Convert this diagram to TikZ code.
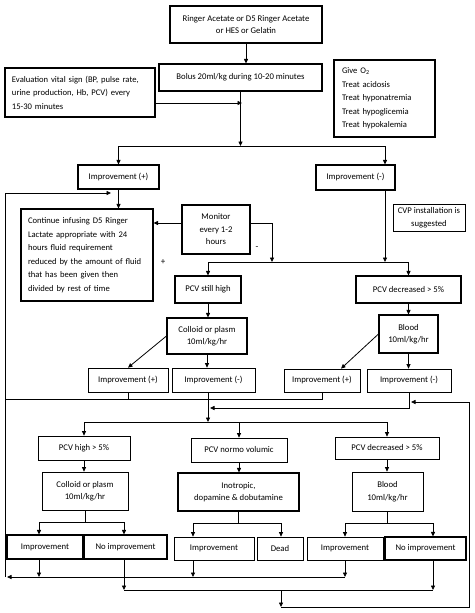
\documentclass[tikz,border=0pt]{standalone}
\usepackage{fontspec}
\setmainfont{Carlito}
\usetikzlibrary{arrows.meta,calc}
\begin{document}
\begin{tikzpicture}[x=1pt,y=-1pt,
 box/.style={draw, line width=1.05pt, inner sep=0pt, align=center, font=\fontsize{8.7}{12.5}\selectfont},
 tbox/.style={box, line width=0.7pt},
 lbox/.style={box, align=left, inner xsep=7pt, font=\fontsize{8.6}{13.5}\selectfont},
 arr/.style={line width=0.8pt, -{Triangle[length=4.5pt,width=4pt]}},
 ln/.style={line width=0.8pt},
 lab/.style={font=\fontsize{9}{10}\selectfont, inner sep=0pt}]
\useasboundingbox[fill=white] (0,0) rectangle (474,613);

% ---- nodes ----
\node[box, minimum width=152pt, minimum height=37pt] (top) at (246,24.5) {Ringer Acetate or D5 Ringer Acetate\\or HES or Gelatin};
\node[box, minimum width=163pt, minimum height=27pt] (bolus) at (240.5,77.5) {Bolus 20ml/kg during 10-20 minutes};
\node[lbox, text width=136pt, minimum height=49pt] (eval) at (80,92.5) {Evaluation vital sign (BP, pulse rate,\\urine production, Hb, PCV) every\\15-30 minutes};
\node[lbox, text width=85pt, inner xsep=8pt, minimum height=77pt] (give) at (384.5,98.5) {Give O\textsubscript{2}\\Treat acidosis\\Treat hyponatremia\\Treat hypoglicemia\\Treat hypokalemia};
\node[box, minimum width=81pt, minimum height=24pt] (impP) at (118.5,177) {Improvement (+)};
\node[box, minimum width=79pt, minimum height=25pt] (impM) at (355.5,177.5) {Improvement (-)};
\node[lbox, text width=118pt, minimum height=92pt] (cont) at (87,255) {Continue infusing D5 Ringer\\Lactate appropriate with 24\\hours fluid requirement\\reduced by the amount of fluid\\that has been given then\\divided by rest of time};
\node[box, minimum width=68pt, minimum height=49pt] (monitor) at (216,229.5) {Monitor\\every 1-2\\hours};
\node[tbox, minimum width=72pt, minimum height=27pt] (cvp) at (429,217.5) {CVP installation is\\suggested};
\node[box, minimum width=66pt, minimum height=27pt] (pcvHigh) at (208,289.5) {PCV still high};
\node[box, minimum width=105pt, minimum height=27pt] (pcvDec) at (408.5,289.5) {PCV decreased > 5\%};
\node[box, minimum width=80pt, minimum height=36pt] (coll1) at (207,336) {Colloid or plasm\\10ml/kg/hr};
\node[box, minimum width=59pt, minimum height=38pt] (blood1) at (408.5,334) {Blood\\10ml/kg/hr};
\node[tbox, minimum width=80pt, minimum height=24pt] (impP1) at (128,380) {Improvement (+)};
\node[tbox, minimum width=83pt, minimum height=24pt] (impM1) at (213.5,380) {Improvement (-)};
\node[tbox, minimum width=76pt, minimum height=23pt] (impP2) at (322,380.5) {Improvement (+)};
\node[tbox, minimum width=84pt, minimum height=23pt] (impM2) at (409,380.5) {Improvement (-)};
\node[tbox, minimum width=92pt, minimum height=24pt] (pcvH5) at (84,448) {PCV high > 5\%};
\node[tbox, minimum width=96pt, minimum height=24pt] (pcvNorm) at (239,450) {PCV normo volumic};
\node[tbox, minimum width=104pt, minimum height=22pt] (pcvD5) at (387,448) {PCV decreased > 5\%};
\node[tbox, minimum width=86pt, minimum height=38pt] (coll2) at (85,491) {Colloid or plasm\\10ml/kg/hr};
\node[box, minimum width=121pt, minimum height=38pt] (ino) at (238.5,492) {Inotropic,\\dopamine \& dobutamine};
\node[tbox, minimum width=71pt, minimum height=39pt] (blood2) at (387.5,491.5) {Blood\\10ml/kg/hr};
\node[box, minimum width=76pt, minimum height=24pt] (imp1) at (45,547) {Improvement};
\node[box, minimum width=83pt, minimum height=24pt] (noimp1) at (125.5,547) {No improvement};
\node[tbox, minimum width=80pt, minimum height=23pt] (imp2) at (214,548.5) {Improvement};
\node[tbox, minimum width=46pt, minimum height=23pt] (dead) at (280,548.5) {Dead};
\node[tbox, minimum width=76pt, minimum height=23pt] (imp3) at (345,548.5) {Improvement};
\node[box, minimum width=81pt, minimum height=23pt] (noimp3) at (425.5,548.5) {No improvement};

\node[lab] (plus) at (163,262) {+};
\node[lab] (minus) at (257,248) {-};

% ---- coordinates ----
\coordinate (e2) at (242,103);
\coordinate (hL) at (118.5,146);
\coordinate (hR) at (385,146);
\coordinate (dL) at (208,262);
\coordinate (dR) at (408.5,262);
\coordinate (mE) at (272,223);
\coordinate (LB) at (5,577);
\coordinate (LT) at (5,193);
\coordinate (LTend) at (111,193);
\coordinate (L399) at (5,399);
\coordinate (c1) at (208,408);
\coordinate (c2) at (208,422);
\coordinate (R1) at (469,402);
\coordinate (R2) at (469,607);
\coordinate (B607) at (281,607);
\coordinate (gL) at (84,422);
\coordinate (gR) at (387,422);
\coordinate (k1L) at (39,522);
\coordinate (k1R) at (124,522);
\coordinate (k2L) at (193,523);
\coordinate (k2R) at (281,523);
\coordinate (k3L) at (345,523);
\coordinate (k3R) at (433,523);
\coordinate (N) at (124,590);
\coordinate (N2) at (433,590);

% ---- connectors ----
\draw[arr] (top.south) -- (top.south |- bolus.north);
\draw[arr] (bolus.south) -- (bolus.south |- hL);
\draw[arr] (eval.east |- e2) -- (e2);
\draw[ln] (hL) -- (hR);
\draw[arr] (hL) -- (impP.north);
\draw[arr] (hR) -- (hR |- impM.north);
\draw[arr] (impP.south) -- (impP.south |- cont.north);
\draw[arr] (hR |- impM.south) -- (hR |- dR);
\draw[ln] (dL) -- (dR);
\draw[arr] (dL) -- (pcvHigh.north);
\draw[arr] (dR) -- (pcvDec.north);
\draw[arr] (monitor.east |- mE) -- (mE) -- (mE |- dR);
\draw[arr] (monitor.west |- mE) -- (cont.east |- mE);

\draw[arr] (pcvHigh.south) -- (pcvHigh.south |- coll1.north);
\draw[arr] (pcvDec.south) -- (pcvDec.south |- blood1.north);
\draw[arr] (coll1.west) -- (impP1.north);
\draw[arr] (blood1.west) -- ($(impP2.north)+(19,0)$);
\draw[arr] (coll1.south) -- (coll1.south |- impM1.north);
\draw[arr] (blood1.south) -- (blood1.south |- impM2.north);

% left feedback loop
\draw[ln] (impP2.south) -- (impP2.south |- L399) -- (L399);
\draw[ln] (impP1.south) -- (impP1.south |- L399);
\draw[arr] (LB) -- (LT) -- (LTend);

% convergence to second stage
\draw[arr] (c2 |- impM1.south) -- (c2);
\draw[arr] (impM2.south) -- (impM2.south |- c1) -- ($(c1)+(2,0)$);
\draw[arr] (B607) -- (R2) -- (R1) -- ($(impM2.south |- R1)+(2,0)$);

\draw[ln] (gL) -- (gR);
\draw[arr] (gL) -- (pcvH5.north);
\draw[arr] (pcvNorm.north |- gL) -- (pcvNorm.north);
\draw[arr] (gR) -- (pcvD5.north);

\draw[arr] (pcvH5.south) -- (pcvH5.south |- coll2.north);
\draw[arr] (pcvNorm.south) -- (pcvNorm.south |- ino.north);
\draw[arr] (pcvD5.south) -- (pcvD5.south |- blood2.north);

\draw[ln] (coll2.south) -- (coll2.south |- k1L);
\draw[ln] (k1L) -- (k1R);
\draw[arr] (k1L) -- (k1L |- imp1.north);
\draw[arr] (k1R) -- (k1R |- noimp1.north);

\draw[ln] (ino.south) -- (ino.south |- k2L);
\draw[ln] (k2L) -- (k2R);
\draw[arr] (k2L) -- (k2L |- imp2.north);
\draw[arr] (k2R) -- (k2R |- dead.north);

\draw[ln] (blood2.south) -- (blood2.south |- k3L);
\draw[ln] (k3L) -- (k3R);
\draw[arr] (k3L) -- (k3L |- imp3.north);
\draw[arr] (k3R) -- (k3R |- noimp3.north);

% bottom returns
\draw[arr] (k1L |- imp1.south) -- (k1L |- LB);
\draw[arr] (k2L |- imp2.south) -- (k2L |- LB);
\draw[arr] (imp3.south) -- (imp3.south |- LB);
\draw[arr] (imp3.south |- LB) -- ($(LB)+(2,0)$);

\draw[ln] (N) -- (N2);
\draw[arr] (k1R |- noimp1.south) -- (N);
\draw[arr] (k3R |- noimp3.south) -- (N2);
\draw[arr] (B607 |- N) -- (B607);
\end{tikzpicture}
\end{document}
